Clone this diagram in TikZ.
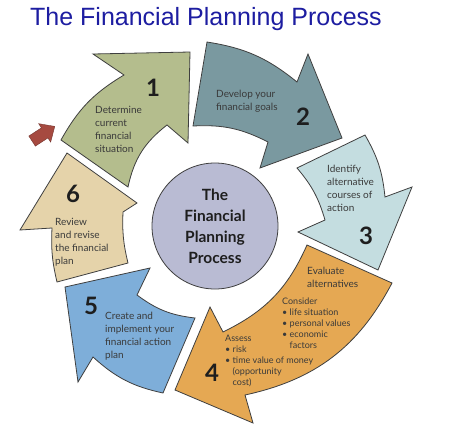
\documentclass[tikz,border=0pt]{standalone}
\usepackage{fontspec}
\setmainfont{Lato}
\newfontfamily\titlefont{Liberation Sans}
\usetikzlibrary{positioning}

\definecolor{titleblue}{HTML}{1D1DA1}
\definecolor{outline}{HTML}{3F3F3F}
\definecolor{numtext}{HTML}{1E1E1E}
\definecolor{desctext}{HTML}{3A3A3A}
\definecolor{hubfill}{HTML}{B9BBD3}
\definecolor{greenstep}{HTML}{B4BD8D}
\definecolor{steelstep}{HTML}{7A99A0}
\definecolor{icestep}{HTML}{C4DDE0}
\definecolor{orangestep}{HTML}{E5A853}
\definecolor{bluestep}{HTML}{7EAED9}
\definecolor{tanstep}{HTML}{E5D3AA}
\definecolor{redmark}{HTML}{A64A40}

\begin{document}
\begin{tikzpicture}[
    x=1pt, y=-1pt,
    segment/.style={draw=outline, line width=0.8pt},
    num/.style={font=\fontsize{24}{24}\selectfont\bfseries, text=numtext, inner sep=0pt},
    desc/.style={anchor=north west, inner sep=0pt, align=left, text=desctext,
      font=\fontsize{10}{13}\selectfont},
    bul/.style={anchor=north west, inner sep=0pt, align=left, text=desctext,
      font=\fontsize{9}{11}\selectfont}
  ]
  \useasboundingbox (0,0) rectangle (455,426);
  \fill[white] (0,0) rectangle (455,426);

  \node[font=\titlefont\fontsize{25}{25}\selectfont, text=titleblue, anchor=base] (title) at (206,25) {The Financial Planning Process};

  % the six steps
  \draw[segment, fill=greenstep] (128,187) -- (61,140) to[bend left=15] (124,75) -- (93,54) -- (190,52)
    -- (188,143) -- (167,125) to[bend right=20] (128,187) -- cycle;
  \draw[segment, fill=steelstep] (193,126) -- (207,42) to[bend left=15] (297,82) -- (308,54) -- (342,138)
    -- (260,168) -- (268,142) to[bend right=15] (193,126) -- cycle;
  \draw[segment, fill=icestep] (297,168) -- (365,135) to[bend left=12] (385,197) -- (412,187) -- (378,270)
    -- (298,232) -- (325,220) to[bend right=12] (297,168) -- cycle;
  \draw[segment, fill=orangestep] (307,245) -- (392,283) to[bend left=25] (245,395) -- (253,423) -- (175,390)
    -- (210,307) -- (223,332) to[bend right=20] (307,245) -- cycle;
  \draw[segment, fill=bluestep] (195,318) -- (163,393) to[bend left=15] (93,357) -- (78,382) -- (65,287)
    -- (150,268) -- (137,295) to[bend right=15] (195,318) -- cycle;
  \draw[segment, fill=tanstep] (128,263) -- (57,282) to[bend left=8] (52,228) -- (20,230) -- (67,153)
    -- (137,203) -- (123,212) to[bend right=8] (128,263) -- cycle;

  % start marker
  \begin{scope}[shift={(43,134)}, rotate=33]
    \fill[redmark, draw=redmark!70!black, line width=0.4pt] (-13,-6) -- (2,-6) -- (2,-11) -- (14,0)
      -- (2,11) -- (2,6) -- (-13,6) -- cycle;
  \end{scope}

  \node[circle, draw=outline, line width=0.8pt, fill=hubfill, minimum size=126pt, align=center,
    font=\fontsize{15.5}{21}\selectfont\bfseries, text=numtext] (hub) at (215,226)
    {The\\Financial\\Planning\\Process};

  \node[num] (n1) at (153,88) {1};
  \node[num] (n2) at (303,117) {2};
  \node[num] (n3) at (366,236) {3};
  \node[num] (n4) at (212,373) {4};
  \node[num] (n5) at (91,306) {5};
  \node[num] (n6) at (73,194) {6};

  \node[desc] (d1) at (95,106) {Determine\\current\\financial\\situation};
  \node[desc] (d2) at (216,90) {Develop your\\financial goals};
  \node[desc] (d3) at (327,165) {Identify\\alternative\\courses of\\action};
  \node[desc] (d4) at (307,267) {Evaluate\\alternatives};
  \node[bul] (d4a) at (282,298) {Consider\\\textbullet\ life situation\\\textbullet\ personal values\\
    \textbullet\ economic\\\phantom{\textbullet\ }factors};
  \node[bul] (d4b) at (225,335) {Assess\\\textbullet\ risk\\\textbullet\ time value of money\\
    \phantom{\textbullet\ }(opportunity\\\phantom{\textbullet\ }cost)};
  \node[desc] (d5) at (105,312) {Create and\\implement your\\financial action\\plan};
  \node[desc] (d6) at (55,218) {Review\\and revise\\the financial\\plan};
\end{tikzpicture}
\end{document}
